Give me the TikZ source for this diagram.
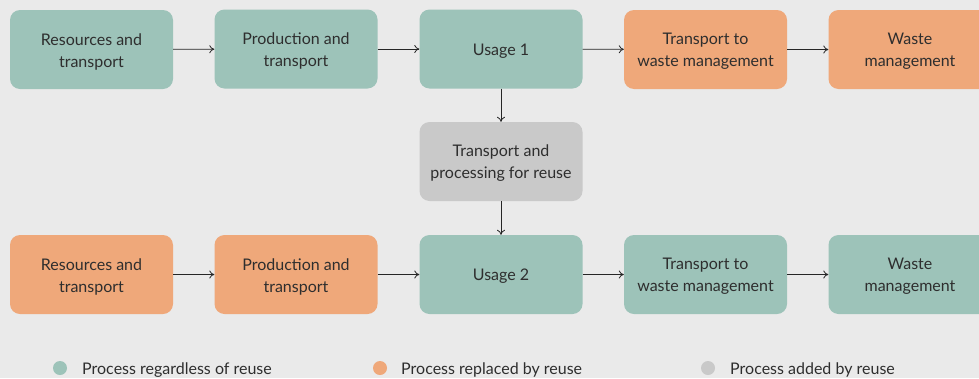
\documentclass[tikz,border=0pt]{standalone}
\usepackage{fontspec}
\setmainfont{Lato}
\usetikzlibrary{arrows.meta}
\definecolor{bg}{HTML}{EAEAEA}
\definecolor{teal}{HTML}{9DC3B9}
\definecolor{orng}{HTML}{EFA87A}
\definecolor{gry}{HTML}{C9C9C9}
\definecolor{txt}{HTML}{2E2E2E}
\begin{document}
\begin{tikzpicture}[x=1pt,y=-1pt,
  box/.style={rounded corners=10pt, minimum width=163pt, minimum height=79pt, inner sep=0pt},
  tx/.style={label={[align=center, text=txt, inner sep=0pt, yshift=-2pt, font=\fontsize{16}{22}\selectfont]center:#1}},
  tbox/.style={box, fill=teal},
  obox/.style={box, fill=orng},
  gbox/.style={box, fill=gry},
  arr/.style={-{To[length=5pt,width=8pt]}, line width=0.8pt, draw=black!85},
  dot/.style={circle, minimum size=14pt, inner sep=0pt},
  leg/.style={anchor=west, text=txt, font=\fontsize{16}{17}\selectfont, inner sep=0pt}]
\fill[bg] (0,0) rectangle (979,378);
\useasboundingbox (0,0) rectangle (979,378);
\clip (0,0) rectangle (979,378);
% top row
\node[tbox, tx={Resources and\\transport}] (a1) at (91.5,49.5) {};
\node[tbox, tx={Production and\\transport}] (b1) at (296,49) {};
\node[tbox, tx={Usage 1}] (c1) at (501,49) {};
\node[obox, tx={Transport to\\waste management}] (d1) at (705.5,49.5) {};
\node[obox, tx={Waste\\management}] (e1) at (910,49.5) {};
% middle
\node[gbox, tx={Transport and\\processing for reuse}] (m) at (501,161.5) {};
% bottom row
\node[obox, tx={Resources and\\transport}] (a2) at (91.5,274.5) {};
\node[obox, tx={Production and\\transport}] (b2) at (296,274.5) {};
\node[tbox, tx={Usage 2}] (c2) at (501,274.5) {};
\node[tbox, tx={Transport to\\waste management}] (d2) at (705.5,274.5) {};
\node[tbox, tx={Waste\\management}] (e2) at (910,274.5) {};
% arrows
\draw[arr] (a1) -- (b1);
\draw[arr] (b1) -- (c1);
\draw[arr] (c1) -- (d1);
\draw[arr] (d1) -- (e1);
\draw[arr] (c1) -- (m);
\draw[arr] (m) -- (c2);
\draw[arr] (a2) -- (b2);
\draw[arr] (b2) -- (c2);
\draw[arr] (c2) -- (d2);
\draw[arr] (d2) -- (e2);
% legend
\node[dot, fill=teal] (l1) at (60,368) {};
\node[leg] (t1) at (82,370) {Process regardless of reuse};
\node[dot, fill=orng] (l2) at (380,368) {};
\node[leg] (t2) at (401,370) {Process replaced by reuse};
\node[dot, fill=gry] (l3) at (708,368) {};
\node[leg] (t3) at (730,370) {Process added by reuse};
\end{tikzpicture}
\end{document}
